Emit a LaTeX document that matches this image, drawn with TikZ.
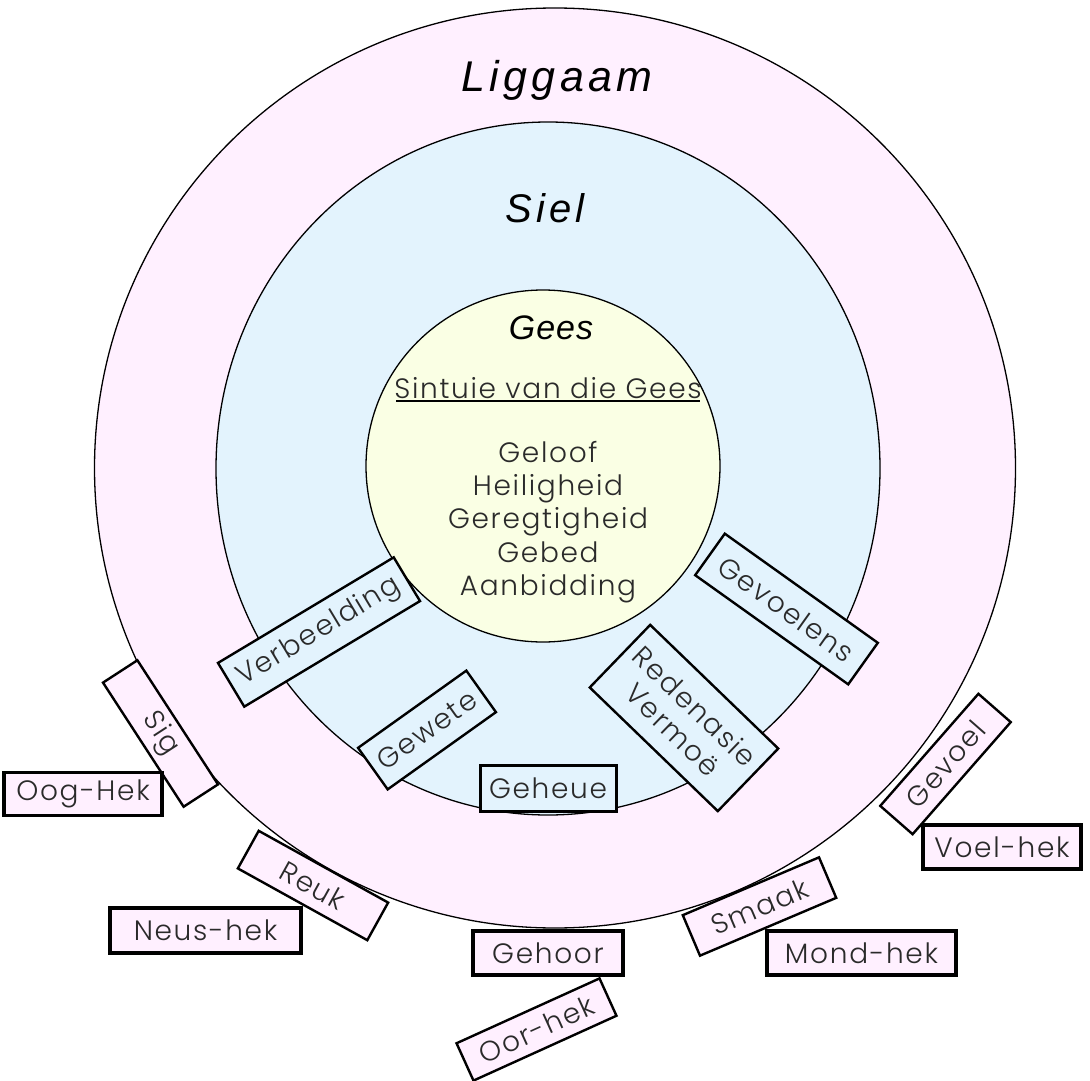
\documentclass[tikz,border=0pt]{standalone}
\usepackage{fontspec}
\setmainfont{Poppins}[UprightFont=* Light,LetterSpace=6]
\newfontfamily\headfont{Liberation Sans}[LetterSpace=10]
\newfontfamily\geesfont{Liberation Sans}[LetterSpace=3]
\definecolor{bodypink}{HTML}{FFF0FF}
\definecolor{soulblue}{HTML}{E3F3FD}
\definecolor{spirityellow}{HTML}{FAFFE4}
\definecolor{txtgray}{HTML}{2A2A2A}
\begin{document}
\begin{tikzpicture}[x=1pt,y=-1pt,
  ring/.style={draw=black,line width=1.3pt},
  headlbl/.style={font=\headfont\itshape,text=black,inner sep=0pt},
  rbox/.style={draw=black,line width=2.4pt,inner sep=0pt,font=\fontsize{28}{32}\selectfont,text=txtgray,align=center},
  sbox/.style={draw=black,line width=3.4pt,inner sep=0pt,font=\fontsize{28}{31}\selectfont,text=txtgray,align=center},
  onpink/.style={fill=bodypink},
  onblue/.style={fill=soulblue}]
\useasboundingbox (0,0) rectangle (1090,1081);
\fill[white] (0,0) rectangle (1090,1081);
% rings
\draw[ring,fill=bodypink] (555,468) ellipse [x radius=460.5pt, y radius=460pt];
\draw[ring,fill=soulblue] (548,468.5) ellipse [x radius=332pt, y radius=346.5pt];
\draw[ring,fill=spirityellow] (543,466) ellipse [x radius=177pt, y radius=176pt];
% headings
\node[headlbl,font=\headfont\itshape\fontsize{43}{48}\selectfont] (liggaam) at (557,80) {Liggaam};
\node[headlbl,font=\headfont\itshape\fontsize{40}{46}\selectfont] (siel) at (545,208) {Siel};
\node[inner sep=0pt,text=black,font=\geesfont\itshape\fontsize{34}{38}\selectfont] (gees) at (551,328) {Gees};
\node[inner sep=0pt,text=txtgray,font=\fontsize{28}{31}\selectfont] (sintuie) at (548,388) {Sintuie van die Gees};
\coordinate (ulA) at (396,401);
\coordinate (ulB) at (700,401);
\draw[black,line width=1.8pt] (ulA) -- (ulB);
\node[inner sep=0pt,text=txtgray,align=center,font=\fontsize{28}{33.3}\selectfont] (gawes) at (548,522)
  {Geloof\\Heiligheid\\Geregtigheid\\Gebed\\Aanbidding};
% soul faculties
\node[rbox,onblue,minimum width=205pt,minimum height=51pt,rotate=31] (verbeelding) at (319,632) {Verbeelding};
\node[rbox,onblue,minimum width=133pt,minimum height=51pt,rotate=35.5] (gewete) at (427,730) {Gewete};
\node[sbox,onblue,line width=3pt,minimum width=136pt,minimum height=46pt] (geheue) at (548,788) {Geheue};
\node[rbox,onblue,minimum width=178pt,minimum height=87pt,rotate=-44] (redenasie) at (684,718) {Redenasie\\Vermoë};
\node[rbox,onblue,minimum width=188pt,minimum height=51pt,rotate=-35.5] (gevoelens) at (786.5,609) {Gevoelens};
% senses
\node[rbox,onpink,minimum width=148pt,minimum height=41pt,rotate=-57] (sig) at (160.5,733.5) {Sig};
\node[sbox,onpink,minimum width=158pt,minimum height=43pt] (ooghek) at (83,794) {Oog-Hek};
\node[rbox,onpink,minimum width=148pt,minimum height=43pt,rotate=-29] (reuk) at (313,885.5) {Reuk};
\node[sbox,onpink,minimum width=191pt,minimum height=45pt] (neushek) at (205.5,930.5) {Neus-hek};
\node[sbox,onpink,minimum width=150pt,minimum height=44pt] (gehoor) at (548,953) {Gehoor};
\node[rbox,onpink,minimum width=157pt,minimum height=41pt,rotate=24.4] (oorhek) at (536.5,1029.5) {Oor-hek};
\node[rbox,onpink,minimum width=148pt,minimum height=44pt,rotate=23] (smaak) at (759.5,906.5) {Smaak};
\node[sbox,onpink,minimum width=189pt,minimum height=44pt] (mondhek) at (861.5,953) {Mond-hek};
\node[rbox,onpink,minimum width=149pt,minimum height=43pt,rotate=48.8] (gevoel) at (945.5,764) {Gevoel};
\node[sbox,onpink,minimum width=158pt,minimum height=44pt] (voelhek) at (1002,847) {Voel-hek};
\end{tikzpicture}
\end{document}
